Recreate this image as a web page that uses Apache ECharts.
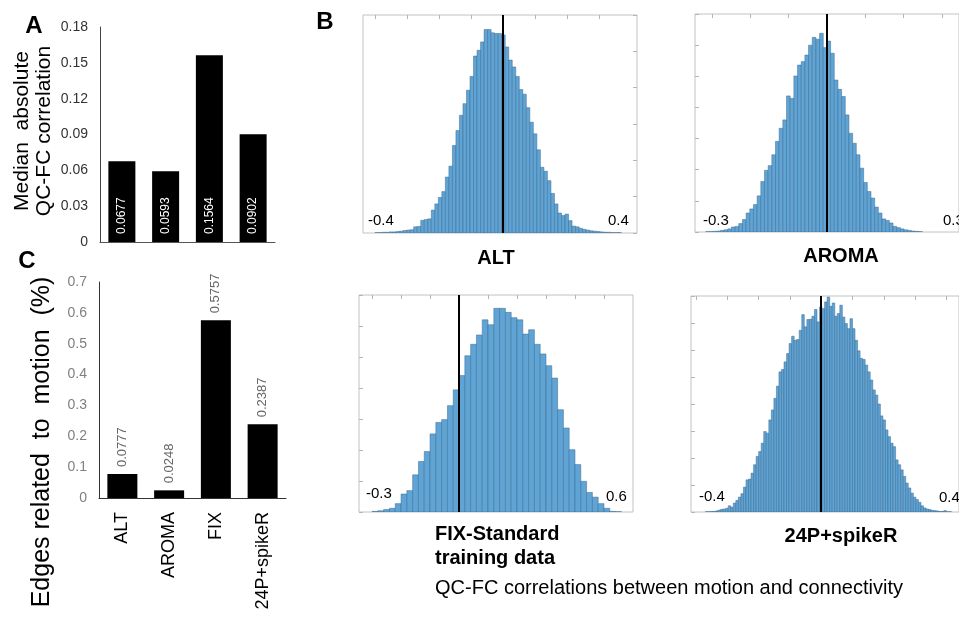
<!DOCTYPE html>
<html>
<head>
<meta charset="utf-8">
<script src="https://cdn.jsdelivr.net/npm/echarts@6/dist/echarts.min.js"></script>
</head>
<body style="margin:0">
<div id="main" style="width:959px;height:620px;"></div>
<script>
// left panels
var methods = ['ALT', 'AROMA', 'FIX', '24P+spikeR'];
var medianAbsCorr = [0.0677, 0.0593, 0.1564, 0.0902];
var edgesMotion = [0.0777, 0.0248, 0.5757, 0.2387];

// histograms (heights in y-tick units)
var altStart = -0.40, altWidth = 0.011;
var altCounts = [0.01,0.01,0.02,0.02,0.03,0.03,0.04,0.05,0.07,0.08,
  0.09,0.17,0.18,0.35,0.37,0.39,0.63,0.80,0.98,1.14,
  1.54,1.84,2.41,2.82,3.24,3.56,3.93,4.31,4.87,5.03,
  5.26,5.60,5.60,5.51,5.49,5.49,5.45,5.12,4.76,4.57,
  4.31,3.95,3.82,3.45,3.05,2.73,2.29,1.81,1.70,1.44,
  1.09,0.80,0.55,0.48,0.52,0.34,0.19,0.17,0.13,0.10,
  0.08,0.06,0.05,0.04,0.03,0.02,0.02,0.01,0.01,0.01];

var aromaStart = -0.317, aromaWidth = 0.0096;
var aromaCounts = [0.01,0.01,0.02,0.03,0.05,0.07,0.10,0.16,0.18,0.27,
  0.40,0.61,0.74,0.88,1.16,1.62,1.98,2.13,2.48,2.91,
  3.33,3.60,4.37,4.29,5.01,5.36,5.47,5.68,6.00,6.25,
  6.19,6.38,5.92,6.13,5.74,4.88,4.58,4.35,3.76,3.17,
  2.85,2.48,2.05,1.59,1.30,1.09,0.80,0.61,0.42,0.37,
  0.29,0.18,0.14,0.10,0.07,0.05,0.03,0.02,0.01];

var fixStart = -0.30, fixWidth = 0.02;
var fixCounts = [0.02,0.04,0.08,0.12,0.27,0.58,0.69,1.20,1.63,1.95,
  2.52,2.89,2.98,3.43,3.94,4.40,5.04,5.41,5.71,6.20,
  6.04,6.57,6.57,6.44,6.27,6.20,5.74,5.88,5.41,5.10,
  4.72,4.32,3.30,2.71,2.01,1.53,0.99,0.63,0.48,0.27,
  0.12,0.02,0.01];

var spikeStart = -0.37, spikeWidth = 0.0081;
var spikeCounts = [0.01,0.01,0.02,0.02,0.04,0.07,0.10,0.11,0.14,0.23,
  0.18,0.33,0.43,0.55,0.68,0.92,1.19,1.22,1.44,1.75,
  2.06,2.24,2.55,2.98,2.92,3.41,3.78,4.21,4.66,5.19,
  5.28,5.56,5.87,6.24,6.51,6.36,6.39,6.73,7.31,6.86,
  7.13,7.14,7.25,7.50,7.04,7.59,7.53,7.78,7.96,7.62,
  7.74,7.25,7.35,7.66,7.22,6.98,6.79,7.16,6.79,6.36,
  5.97,5.69,5.65,5.44,5.19,4.89,4.52,4.33,4.00,3.56,
  3.41,3.04,2.79,2.55,2.42,1.93,1.75,1.56,1.32,1.07,
  0.89,0.70,0.55,0.46,0.36,0.23,0.15,0.11,0.09,0.06,
  0.05,0.04,0.02,0.02,0.05,0.01,0.01];

var altTicks = [-0.4, -0.3, -0.2, -0.1, 0, 0.1, 0.2, 0.3];
var aromaTicks = [-0.3, -0.2, -0.1, 0, 0.1, 0.2, 0.3];
var fixTicks = [-0.3, -0.2, -0.1, 0, 0.1, 0.2, 0.3, 0.4, 0.5];
var spikeTicks = [-0.4, -0.3, -0.2, -0.1, 0, 0.1, 0.2, 0.3, 0.4];

var FONT = '"Liberation Sans", Arial, sans-serif';
var myChart = echarts.init(document.getElementById('main'));

function histAxis(grid, min, max, ticks) {
  return {
    type: 'value', gridIndex: grid, position: 'top', min: min, max: max,
    axisLine: { show: false, onZero: false },
    axisTick: { show: true, inside: true, length: 4, customValues: ticks, lineStyle: { color: '#b5b5b5' } },
    axisLabel: { show: false },
    splitLine: { show: false }
  };
}
function histY(grid, max, side) {
  return {
    type: 'value', gridIndex: grid, min: 0, max: max, interval: 1, position: side,
    axisLine: { show: false, onZero: false },
    axisTick: { show: true, inside: true, length: 4, lineStyle: { color: '#b5b5b5' } },
    axisLabel: { show: false },
    splitLine: { show: false }
  };
}
function histSeries(idx, start, w, counts) {
  return {
    type: 'custom', xAxisIndex: idx, yAxisIndex: idx, clip: true,
    data: counts.map(function (h, i) { return [start + i * w, start + (i + 1) * w, h]; }),
    encode: { x: [0, 1], y: 2 },
    renderItem: function (params, api) {
      var p0 = api.coord([api.value(0), api.value(2)]);
      var p1 = api.coord([api.value(1), 0]);
      return {
        type: 'rect',
        shape: { x: p0[0], y: p0[1], width: p1[0] - p0[0], height: p1[1] - p0[1] },
        style: { fill: '#5fa4d5', stroke: '#3a6a90', lineWidth: 0.5 }
      };
    },
    markLine: {
      silent: true, symbol: 'none', label: { show: false },
      lineStyle: { color: '#000', width: 2, type: 'solid' },
      data: [{ xAxis: 0 }]
    }
  };
}
function txt(x, y, s, size, opt) {
  opt = opt || {};
  return {
    type: 'text', x: x, y: y, rotation: opt.rot || 0,
    style: {
      text: s, fontSize: size, fontFamily: FONT, fontWeight: opt.bold ? 'bold' : 'normal',
      fill: opt.color || '#000', align: opt.align || 'center', verticalAlign: 'middle',
      lineHeight: opt.lh || size * 1.2
    }
  };
}

myChart.setOption({
  animation: false,
  textStyle: { fontFamily: FONT },
  grid: [
    { left: 100, top: 27, width: 175, height: 215 },
    { left: 99, top: 282, width: 187, height: 216 },
    { left: 363, top: 15, width: 274, height: 218, show: true, borderColor: '#c2c2c2', borderWidth: 1 },
    { left: 695, top: 14, width: 290, height: 218, show: true, borderColor: '#c2c2c2', borderWidth: 1 },
    { left: 359, top: 295, width: 274, height: 217, show: true, borderColor: '#c2c2c2', borderWidth: 1 },
    { left: 691, top: 296, width: 271, height: 216, show: true, borderColor: '#c2c2c2', borderWidth: 1 }
  ],
  xAxis: [
    { type: 'category', gridIndex: 0, data: methods,
      axisLine: { lineStyle: { color: '#555' } }, axisTick: { show: false }, axisLabel: { show: false } },
    { type: 'category', gridIndex: 1, data: methods,
      axisLine: { lineStyle: { color: '#333' } }, axisTick: { show: false },
      axisLabel: { rotate: 90, fontSize: 18, color: '#000', margin: 14 } },
    histAxis(2, -0.4375, 0.419, altTicks),
    histAxis(3, -0.345, 0.345, aromaTicks),
    histAxis(4, -0.345, 0.6, fixTicks),
    histAxis(5, -0.416, 0.44, spikeTicks)
  ],
  yAxis: [
    { type: 'value', gridIndex: 0, min: 0, max: 0.18, interval: 0.03,
      axisLine: { show: true, lineStyle: { color: '#444' } }, axisTick: { show: false },
      axisLabel: { fontSize: 14, color: '#333', margin: 12 }, splitLine: { show: false } },
    { type: 'value', gridIndex: 1, min: 0, max: 0.7, interval: 0.1,
      axisLine: { show: true, lineStyle: { color: '#333' } }, axisTick: { show: false },
      axisLabel: { fontSize: 14, color: '#808080', margin: 12 }, splitLine: { show: false } },
    histY(2, 6, 'right'),
    histY(3, 7, 'left'),
    histY(4, 7, 'left'),
    histY(5, 8, 'left')
  ],
  series: [
    { type: 'bar', xAxisIndex: 0, yAxisIndex: 0, data: medianAbsCorr, barWidth: 27,
      itemStyle: { color: '#000' },
      label: { show: true, position: 'insideBottom', rotate: 90, align: 'left', verticalAlign: 'middle',
        distance: 8, color: '#fff', fontSize: 12 } },
    { type: 'bar', xAxisIndex: 1, yAxisIndex: 1, data: edgesMotion, barWidth: 30,
      itemStyle: { color: '#000' },
      label: { show: true, position: 'top', rotate: 90, align: 'left', verticalAlign: 'middle',
        distance: 7, color: '#666', fontSize: 13 } },
    histSeries(2, altStart, altWidth, altCounts),
    histSeries(3, aromaStart, aromaWidth, aromaCounts),
    histSeries(4, fixStart, fixWidth, fixCounts),
    histSeries(5, spikeStart, spikeWidth, spikeCounts)
  ],
  graphic: [
    txt(34, 26, 'A', 24, { bold: true }),
    txt(325, 22, 'B', 24, { bold: true }),
    txt(27, 261, 'C', 24, { bold: true }),
    txt(33, 131, 'Median  absolute\nQC-FC correlation', 21, { rot: Math.PI / 2, lh: 22 }),
    txt(42, 442, 'Edges related  to  motion  (%)', 25, { rot: Math.PI / 2 }),
    txt(496, 258, 'ALT', 20, { bold: true }),
    txt(841, 256, 'AROMA', 20, { bold: true }),
    txt(435, 546, 'FIX-Standard\ntraining data', 20, { bold: true, align: 'left', lh: 24 }),
    txt(841, 536, '24P+spikeR', 20, { bold: true }),
    txt(368, 221, '-0.4', 15, { align: 'left' }),
    txt(608, 221, '0.4', 15, { align: 'left' }),
    txt(703, 221, '-0.3', 15, { align: 'left' }),
    txt(943, 221, '0.3', 15, { align: 'left' }),
    txt(366, 494, '-0.3', 15, { align: 'left' }),
    txt(606, 497, '0.6', 15, { align: 'left' }),
    txt(699, 497, '-0.4', 15, { align: 'left' }),
    txt(939, 498, '0.4', 15, { align: 'left' }),
    txt(435, 588, 'QC-FC correlations between motion and connectivity', 20, { align: 'left' })
  ]
});
</script>
</body>
</html>
